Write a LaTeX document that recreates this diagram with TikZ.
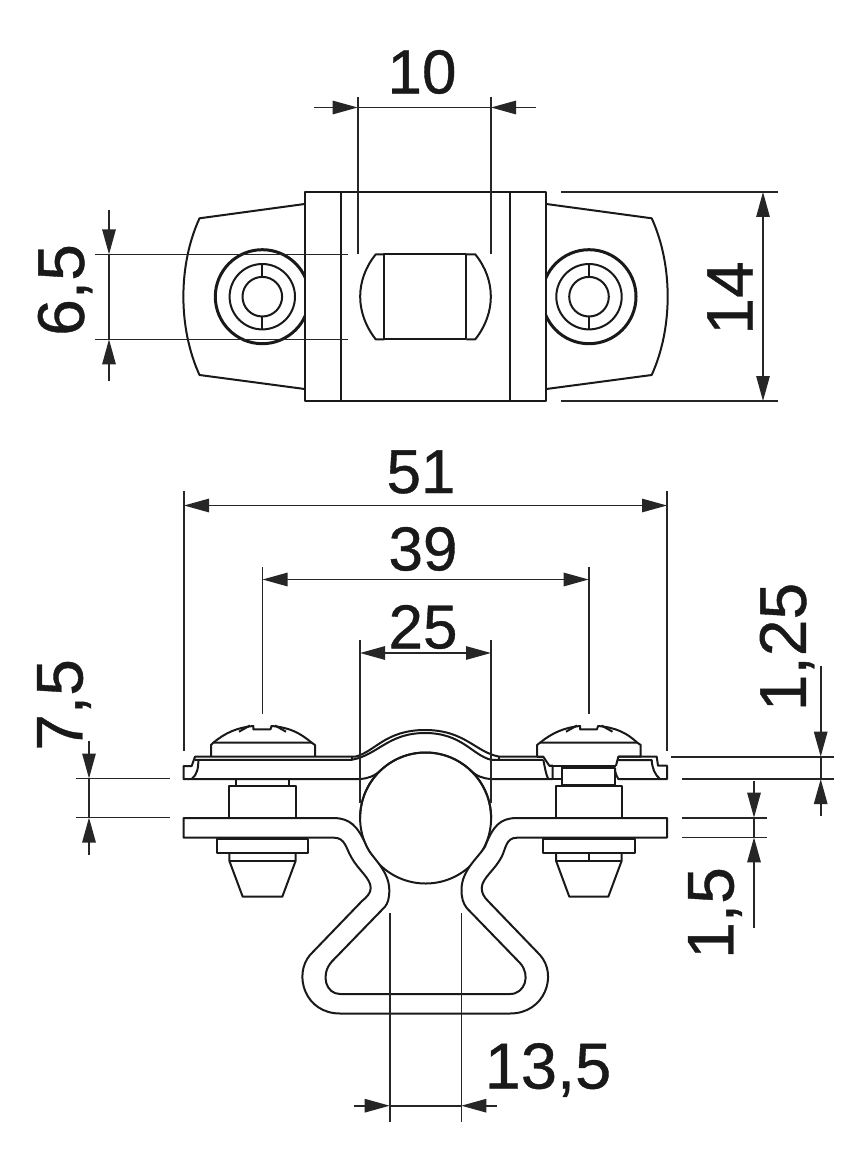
\documentclass[tikz,border=0pt]{standalone}
\usepackage{fontspec}
\setmainfont{Liberation Sans}
\newfontfamily\dimfont[FakeBold=0.6]{Liberation Sans}
\usetikzlibrary{arrows.meta}
\tikzset{
  part/.style={line width=1pt,black!90,line join=round},
  heavy/.style={line width=1.5pt,black!90},
  dimline/.style={line width=0.8pt,black!85},
  both/.style={dimline,{Triangle[length=12.5pt,width=6.7pt]}-{Triangle[length=12.5pt,width=6.7pt]}},
  tip/.style={dimline,-{Triangle[length=12.5pt,width=6.7pt]}},
  dimtext/.style={font=\dimfont\fontsize{31}{31}\selectfont,inner sep=0pt,text=black!90},
  dimside/.style={font=\dimfont\fontsize{33}{33}\selectfont,inner sep=0pt,text=black!90,rotate=90},
}
\begin{document}
\begin{tikzpicture}[x=0.5pt,y=-0.5pt]
\useasboundingbox (0,0) rectangle (866,1166);
\fill[white] (0,0) rectangle (866,1166);
% ---------- top view ----------
\draw[part] (304.7,192) rectangle (546.3,401);
\draw[part] (340.7,192) -- (340.7,401);
\draw[part] (510.3,192) -- (510.3,401);
\draw[part] (304.7,204) -- (199.5,218.3) .. controls (178,265) and (178,328) .. (199.5,375) -- (304.7,389);
\draw[part] (546.3,204) -- (651.7,218.3) .. controls (673,265) and (673,328) .. (651.7,375) -- (546.3,389);
% washers
\begin{scope}
\clip (200,240) rectangle (304.7,350);
\draw[heavy] (262.3,296.7) circle (47);
\end{scope}
\begin{scope}
\clip (546.3,240) rectangle (650,350);
\draw[heavy] (589,296.7) circle (47);
\end{scope}
\foreach \cx in {262.3,589}{
  \draw[part] (\cx,296.7) circle (32.7);
  \draw[part] (\cx,296.7) circle (19.8);
  \draw[part] (\cx,264) -- (\cx,277);
  \draw[part] (\cx,316.5) -- (\cx,329.4);
}
% window
\draw[part] (384.3,254.4) -- (375.7,254.4) .. controls (355,280) and (355,313) .. (375.7,339.3) -- (384.3,339.3);
\draw[part] (466.3,254.4) -- (475.3,254.4) .. controls (496,280) and (496,313) .. (475.3,339.3) -- (466.3,339.3);
\draw[part] (384.3,254.4) rectangle (466.3,339.3);
% top dims
\draw[dimline] (357.7,97) -- (357.7,254);
\draw[dimline] (491,97) -- (491,254);
\draw[dimline] (357.7,107.5) -- (491,107.5);
\draw[tip] (314,107.5) -- (357.7,107.5);
\draw[tip] (536,107.5) -- (491,107.5);
\node[dimtext] (t10) at (422,72) {10};
\draw[dimline] (561,192) -- (778,192);
\draw[dimline] (561,401) -- (778,401);
\draw[both] (763,192) -- (763,401);
\node[dimside] (t14) at (730,298) {14};
\draw[dimline] (95,254.4) -- (348,254.4);
\draw[dimline] (95,339.3) -- (348,339.3);
\draw[dimline] (109,254.4) -- (109,339.3);
\draw[tip] (109,210) -- (109,254.4);
\draw[tip] (109,381) -- (109,339.3);
\node[dimside] (t65) at (65,290) {6,5};
% ---------- front view ----------
\draw[part] (425.6,818) circle (65.5);
% upper plate with arch
\draw[part] (360,779) -- (183.5,779) -- (183.5,766) -- (191.7,766) -- (195,756.7) -- (355,756.7)
  .. controls (375,752) and (385,730) .. (425,730)
  .. controls (465,730) and (475,752) .. (499.3,756.7)
  -- (543.3,756.7) -- (549.3,765.7) -- (552.7,765.7) -- (552.7,779) -- (491,779);
\draw[part] (360,779) .. controls (368,778.5) and (375,776) .. (381,770);
\draw[part] (491,779) .. controls (483,778.5) and (476,776) .. (470,770);
\draw[part] (195,759.8) -- (351.7,759.8) .. controls (378,755) and (388,733) .. (425,733) .. controls (462,733) and (472,755) .. (491,759.8) -- (543.3,759.8);
\draw[part] (351.7,756.7) -- (351.7,759.8);
\draw[part] (499.3,756.7) -- (499.3,759.8);
\draw[part] (198.3,759.5) .. controls (198.5,768) and (197,775) .. (191.7,779);
\draw[part] (543.3,759.8) .. controls (545,768) and (546,775) .. (548.3,779);
\draw[part] (552.7,779) -- (561.7,779);
\draw[part] (561.7,765.7) -- (561.7,785);
% right plate part
\draw[part] (616,765.7) -- (618.3,756.7) -- (656.7,756.7) -- (658,765.7) -- (667,765.7) -- (667,779) -- (618.3,779)
  .. controls (616,775) and (615,772) .. (615,768);
\draw[part] (618,760) -- (651.7,760) .. controls (652,768) and (655,775) .. (660,779);
% lower strap
\draw[part,fill=white] (183.5,818) -- (333,818) .. controls (350,818) and (358,826) .. (366.7,846.7)
  .. controls (372,858) and (389,870) .. (389.3,890)
  .. controls (389.3,898) and (388,903) .. (385,906.7)
  -- (331.7,961.7) .. controls (320,975) and (326,994) .. (340,994)
  -- (510,994) .. controls (525,994) and (531,975) .. (520,963)
  -- (466.7,908) .. controls (463,903) and (461.5,898) .. (461.5,890)
  .. controls (461.5,870) and (478,858) .. (485,846.7)
  .. controls (493,826) and (500,818) .. (517,818)
  -- (667,818) -- (667,837.7) -- (517,837.7)
  .. controls (506,837.7) and (506,848) .. (501.7,856.7)
  .. controls (495,870) and (482,878) .. (481.7,888)
  .. controls (481.7,893) and (484,897) .. (488,901)
  -- (540,955) .. controls (558,975) and (545,1013.5) .. (510,1013.5)
  -- (340,1013.5) .. controls (305,1013.5) and (293,975) .. (310,955)
  -- (362,901) .. controls (367,897) and (370.7,893) .. (370.7,888)
  .. controls (370.7,878) and (358,870) .. (351,856.7)
  .. controls (346,848) and (345,837.7) .. (334,837.7)
  -- (183.5,837.7) -- cycle;
% ball arc visible between strap and plate
\draw[part] (360.1,818) arc (180:360:65.5);
% left screw
\draw[part] (211,756.7) -- (211,745) -- (213.3,742.7) -- (311.7,742.7) -- (315,745) -- (315,756.7);
\draw[part] (213.3,742.7) .. controls (225,733) and (237,727.5) .. (253.3,726) -- (253.3,729.3) -- (270.5,729.3) -- (271.5,726)
  .. controls (290,727.5) and (300,733) .. (311.7,742.7);
\draw[part] (239,731.7) -- (250,725.5);
\draw[part] (275,725.5) -- (286,731.7);
\draw[part] (235.7,779) -- (235.7,786);
\draw[part] (289,779) -- (289,786);
\draw[part] (229.3,786) rectangle (295.7,818);
\draw[part] (216.7,838.5) rectangle (308.3,853.3);
\draw[part] (229.3,853.3) -- (229.3,860.7) -- (242.7,896.7) -- (282.3,896.7) -- (295.7,860.7) -- (295.7,853.3);
\draw[part] (229.3,860.7) -- (295.7,860.7);
% right screw
\draw[part] (537,756.7) -- (537,745) -- (540,742.7) -- (637.3,742.7) -- (640.7,745) -- (640.7,756.7) -- (618.3,756.7);
\draw[part] (537,756.7) -- (543.3,756.7);
\draw[part] (540,742.7) .. controls (552,733) and (564,727.5) .. (580,726) -- (580,729.3) -- (597,729.3) -- (598,726)
  .. controls (616,727.5) and (627,733) .. (637.3,742.7);
\draw[part] (566,731.7) -- (577,725.5);
\draw[part] (601.5,725.5) -- (612.5,731.7);
\draw[part] (549.3,765.7) -- (616,765.7);
\draw[part] (561.7,768.3) -- (615,768.3) -- (615,785);
\draw[part] (561.7,784.5) -- (615,784.5);
\draw[part] (588.7,765.7) -- (588.7,768.3);
\draw[part] (588.7,784.5) -- (588.7,786);
\draw[part] (556,786) rectangle (621.7,818);
\draw[part] (543.3,838.5) rectangle (634.7,853.3);
\draw[part] (556,853.3) -- (556,860.7) -- (569.3,896.7) -- (608.3,896.7) -- (621.7,860.7) -- (621.7,853.3);
\draw[part] (556,860.7) -- (621.7,860.7);
\draw[part] (588.7,853.3) -- (588.7,860.7);
% front dims
\draw[dimline] (184,491) -- (184,751);
\draw[dimline] (667,491) -- (667,751);
\draw[both] (184,505.5) -- (667,505.5);
\node[dimtext] (t51) at (421,472) {51};
\draw[dimline] (262.5,567) -- (262.5,714);
\draw[dimline] (588.7,567) -- (588.7,714);
\draw[both] (262.5,579.5) -- (588.7,579.5);
\node[dimtext] (t39) at (423,549) {39};
\draw[dimline] (360,640) -- (360,803);
\draw[dimline] (491,640) -- (491,803);
\draw[both] (360,653) -- (491,653);
\node[dimtext] (t25) at (423,627) {25};
\draw[dimline] (76,778.5) -- (170,778.5);
\draw[dimline] (76,817.5) -- (170,817.5);
\draw[dimline] (89,778.5) -- (89,817.5);
\draw[tip] (89,741) -- (89,778.5);
\draw[tip] (89,855) -- (89,817.5);
\node[dimside] (t75) at (64,705) {7,5};
\draw[dimline] (671,756.7) -- (834,756.7);
\draw[dimline] (682,779) -- (834,779);
\draw[dimline] (682,817.7) -- (767,817.7);
\draw[dimline] (682,837.3) -- (767,837.3);
\draw[dimline] (820.7,756.7) -- (820.7,779);
\draw[tip] (820.7,665.7) -- (820.7,756.7);
\draw[tip] (820.7,816) -- (820.7,779);
\node[dimside] (t125) at (787,647) {1,25};
\draw[dimline] (754,817.7) -- (754,837.3);
\draw[tip] (754,780.7) -- (754,817.7);
\draw[tip] (754,928) -- (754,837.3);
\node[dimside] (t15) at (715,913) {1,5};
\draw[dimline] (389.7,913) -- (389.7,1122);
\draw[dimline] (461.3,913) -- (461.3,1122);
\draw[dimline] (389.7,1105.7) -- (461.3,1105.7);
\draw[tip] (354,1105.7) -- (389.7,1105.7);
\draw[tip] (497,1105.7) -- (461.3,1105.7);
\node[dimtext,font=\dimfont\fontsize{32.5}{32.5}\selectfont] (t135) at (548,1070) {13,5};
\end{tikzpicture}
\end{document}
